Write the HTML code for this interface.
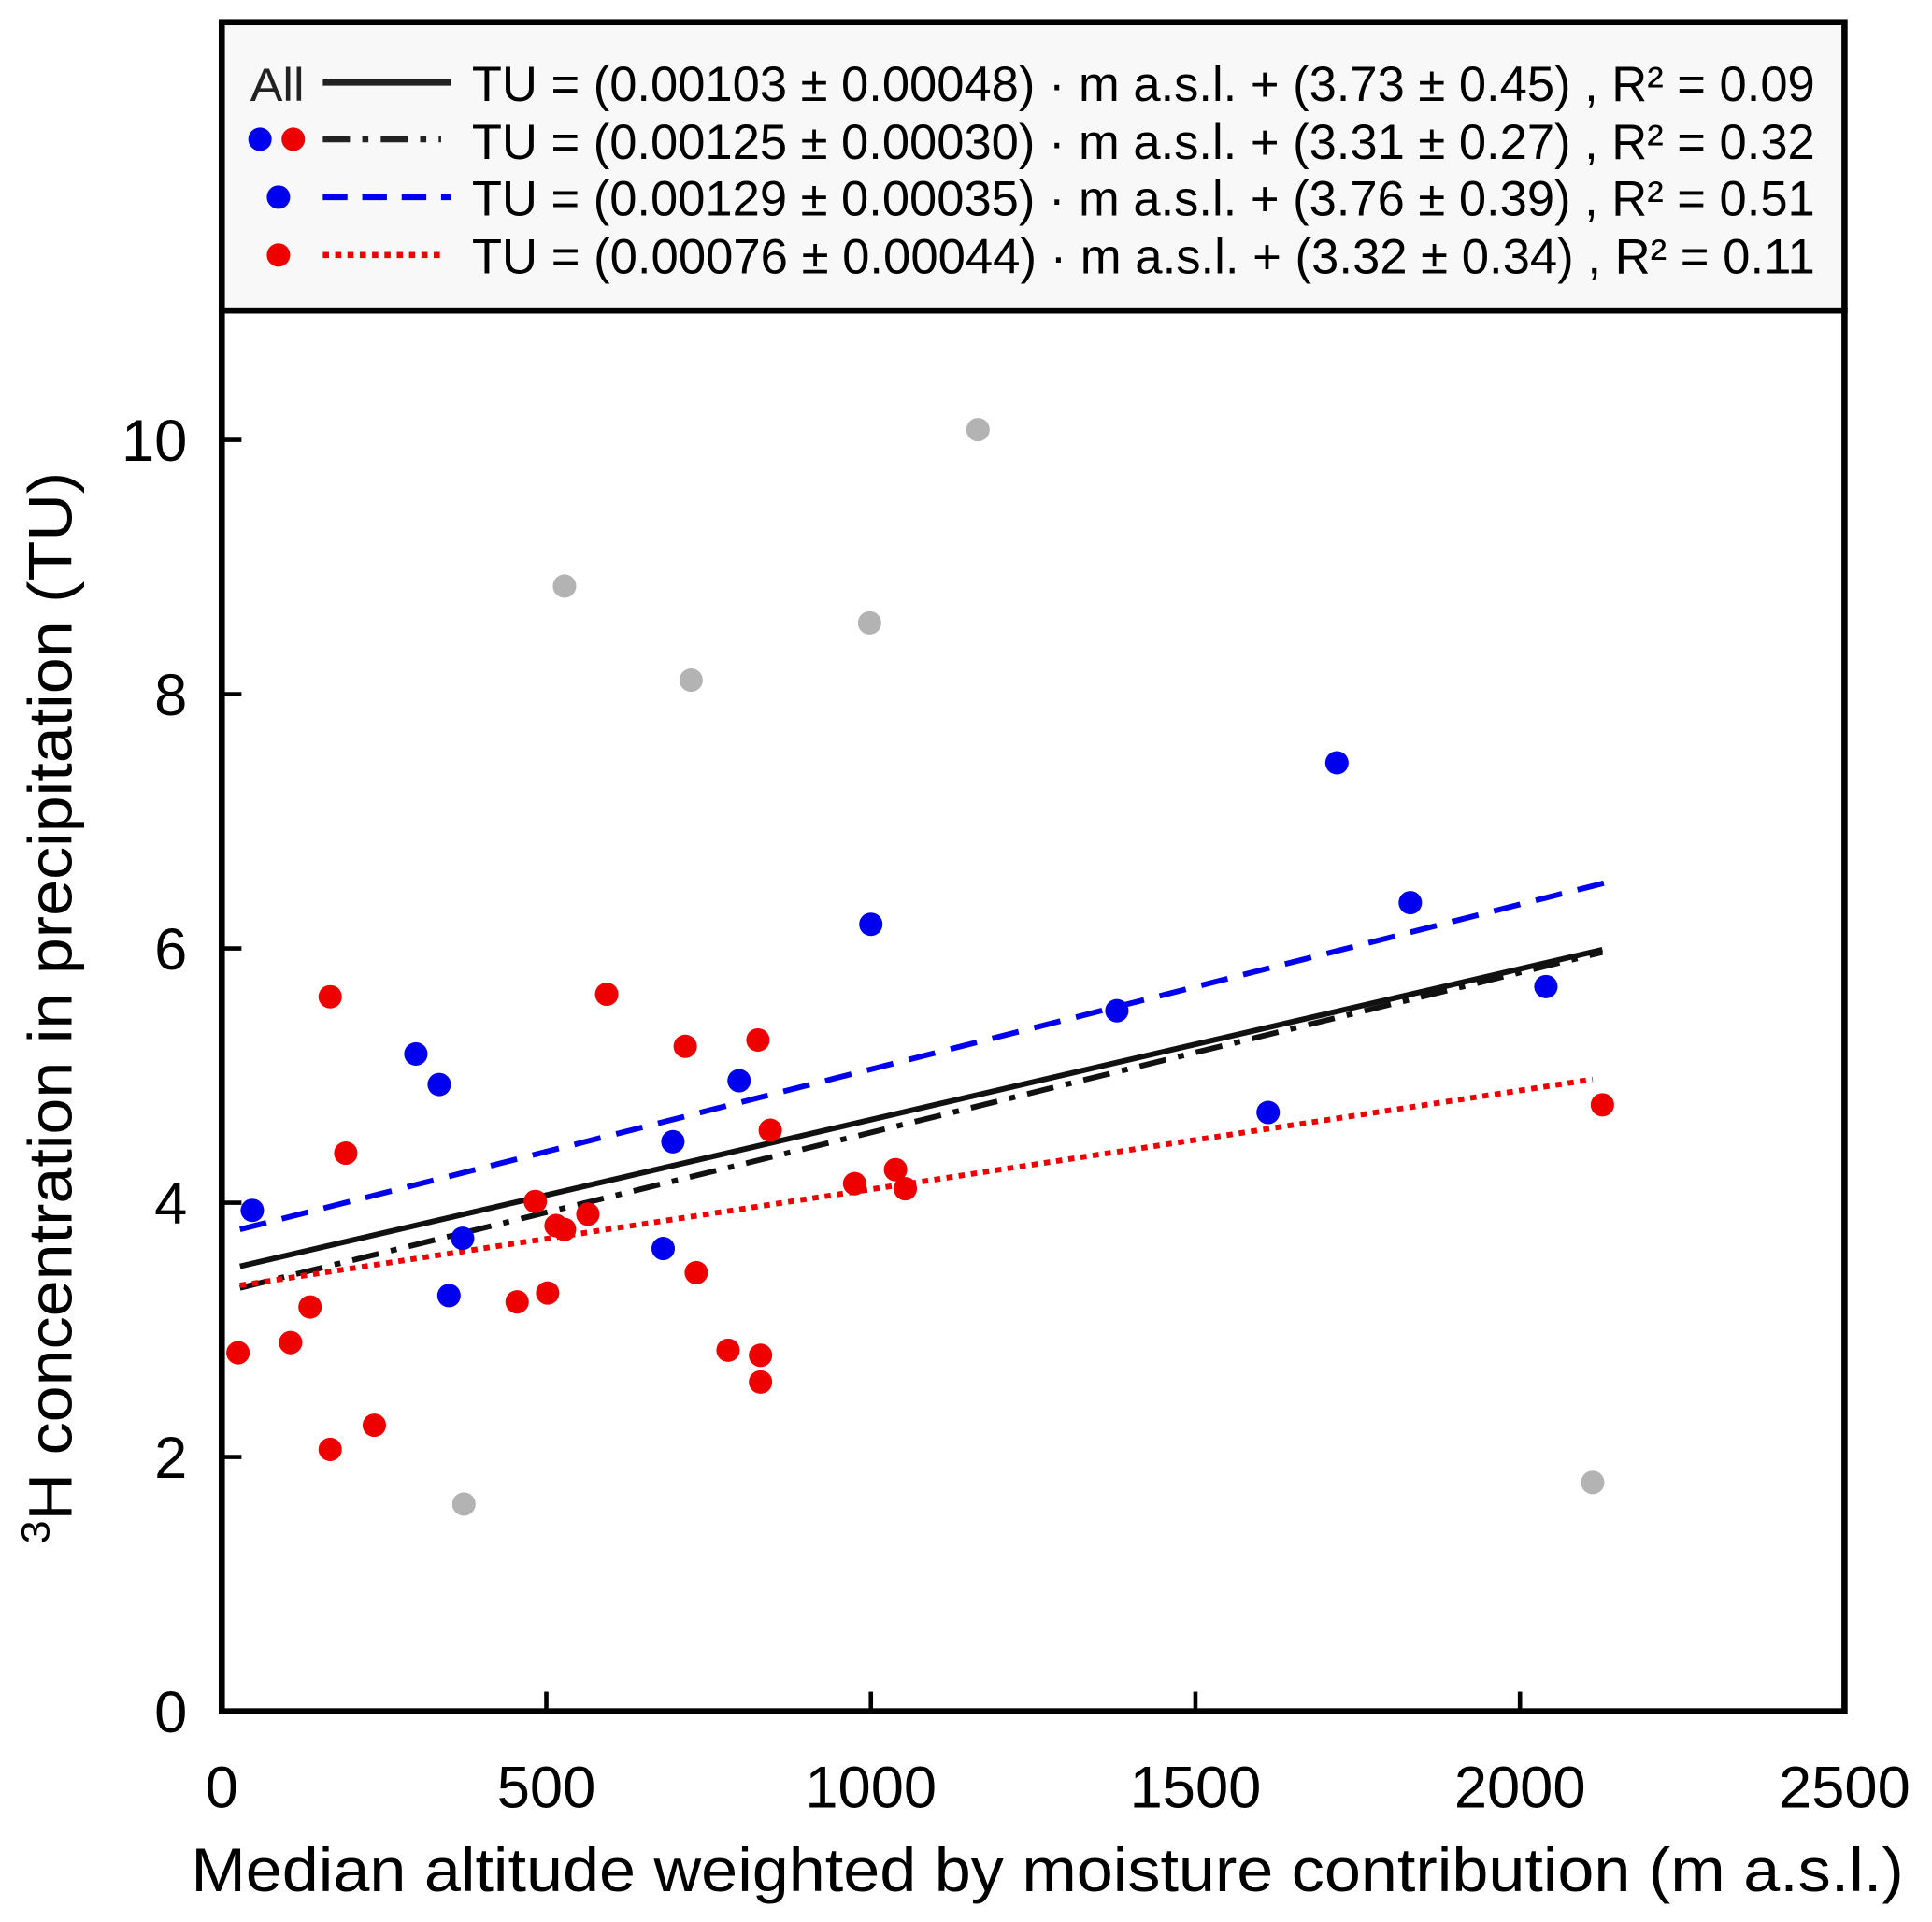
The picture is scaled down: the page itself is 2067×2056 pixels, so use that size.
<!DOCTYPE html>
<html><head><meta charset="utf-8"><style>
html,body{margin:0;padding:0;background:#fff}
svg{display:block}
text{font-family:"Liberation Sans",Arial,sans-serif}
</style></head><body>
<svg id="chart" width="2067" height="2056" viewBox="0 0 1568 1560" preserveAspectRatio="none" xmlns="http://www.w3.org/2000/svg">
<rect x="0" y="0" width="1568" height="1560" fill="#fff"/>
<g id="marks"></g>
<g id="axes"></g>
<g id="legend">
  <rect x="180" y="18" width="1317" height="234" fill="#f8f8f8" stroke="#000" stroke-width="5"/>
  <text x="203" y="82" font-size="38" fill="#222" textLength="44" lengthAdjust="spacingAndGlyphs">All</text>
  <line x1="262" y1="67" x2="366" y2="67" stroke="#222" stroke-width="5"/>
  <circle cx="211" cy="113" r="9.5" fill="#0000ee"/><circle cx="238" cy="113" r="9.5" fill="#ee0000"/>
  <line x1="262" y1="113" x2="358" y2="113" stroke="#222" stroke-width="5" stroke-dasharray="22,10,5,10"/>
  <circle cx="226" cy="160" r="9.5" fill="#0000ee"/>
  <line x1="262" y1="160" x2="366" y2="160" stroke="#0000ee" stroke-width="5" stroke-dasharray="20,12"/>
  <circle cx="226" cy="207" r="9.5" fill="#ee0000"/>
  <line x1="262" y1="207" x2="360" y2="207" stroke="#ee0000" stroke-width="5" stroke-dasharray="5,5"/>
  <text x="383" y="82" font-size="40" textLength="1090" lengthAdjust="spacingAndGlyphs">TU = (0.00103 ± 0.00048) · m a.s.l. + (3.73 ± 0.45) , R² = 0.09</text>
  <text x="383" y="129" font-size="40" textLength="1090" lengthAdjust="spacingAndGlyphs">TU = (0.00125 ± 0.00030) · m a.s.l. + (3.31 ± 0.27) , R² = 0.32</text>
  <text x="383" y="175" font-size="40" textLength="1090" lengthAdjust="spacingAndGlyphs">TU = (0.00129 ± 0.00035) · m a.s.l. + (3.76 ± 0.39) , R² = 0.51</text>
  <text x="383" y="222" font-size="40" textLength="1090" lengthAdjust="spacingAndGlyphs">TU = (0.00076 ± 0.00044) · m a.s.l. + (3.32 ± 0.34) , R² = 0.11</text>
</g>
<text x="850" y="1535" font-size="50" text-anchor="middle" textLength="1390" lengthAdjust="spacingAndGlyphs">Median altitude weighted by moisture contribution  (m a.s.l.)</text>
<text transform="translate(58,818) rotate(-90)" font-size="50" text-anchor="middle" textLength="870" lengthAdjust="spacingAndGlyphs"><tspan font-size="32" dy="-18">3</tspan><tspan dy="18">H concentration in precipitation (TU)</tspan></text>
</svg>
<script>
const xTicks = [0, 500, 1000, 1500, 2000, 2500];
const yTicks = [0, 2, 4, 6, 8, 10];
const grayX = [528, 723, 998, 1165, 373, 2112];
const grayY = [8.85, 8.11, 8.56, 10.08, 1.63, 1.80];
const blueX = [47, 299, 335, 371, 350, 695, 680, 797, 1000, 1379, 1612, 1718, 1831, 2040];
const blueY = [3.94, 5.17, 4.93, 3.72, 3.27, 4.48, 3.64, 4.96, 6.19, 5.51, 4.71, 7.46, 6.36, 5.70];
const redX = [25, 106, 136, 167, 191, 167, 235, 455, 483, 502, 515, 528, 564, 593, 714, 731, 780, 826, 830, 830, 845, 975, 1038, 1053, 2127];
const redY = [2.82, 2.90, 3.18, 5.62, 4.39, 2.06, 2.25, 3.22, 4.01, 3.29, 3.82, 3.79, 3.91, 5.64, 5.23, 3.45, 2.84, 5.28, 2.80, 2.59, 4.57, 4.15, 4.26, 4.11, 4.77];
const fitNames = ['fit-all', 'fit-blue-red', 'fit-blue', 'fit-red'];
const fitX0 = [28, 28, 28, 28];
const fitX1 = [2127, 2127, 2134, 2112];
const fitY0 = [3.50, 3.33, 3.79, 3.35];
const fitY1 = [5.99, 5.97, 6.52, 4.97];

const NS = 'http://www.w3.org/2000/svg';
const X0 = 180, X1 = 1497, Y0 = 1389, Ytop = 252;
const sx = v => X0 + v * (X1 - X0) / 2500;
const sy = v => Y0 - v * 103.2;
function mk(tag, attrs, parent) {
  const e = document.createElementNS(NS, tag);
  for (const k in attrs) e.setAttribute(k, attrs[k]);
  parent.appendChild(e);
  return e;
}
const marks = document.getElementById('marks');
const axes = document.getElementById('axes');

const styles = [
  {stroke: '#111', dash: ''},
  {stroke: '#111', dash: '22,10,5,10'},
  {stroke: '#0000ee', dash: '22,13'},
  {stroke: '#ee0000', dash: '5,5'}
];
function dots(xs, ys, color, name) {
  xs.forEach((x, i) => {
    const c = mk('circle', {cx: sx(x), cy: sy(ys[i]), r: 9.5, fill: color}, marks);
    
    
  });
}
dots(grayX, grayY, '#b3b3b3', 'point-excluded');
fitNames.forEach((n, i) => {
  const l = mk('line', {x1: sx(fitX0[i]), y1: sy(fitY0[i]), x2: sx(fitX1[i]), y2: sy(fitY1[i]), stroke: styles[i].stroke, 'stroke-width': 4.5}, marks);
  if (styles[i].dash) l.setAttribute('stroke-dasharray', styles[i].dash);
  
  
});
dots(blueX, blueY, '#0000ee', 'point-blue');
dots(redX, redY, '#ee0000', 'point-red');

const frame = mk('rect', {x: X0, y: Ytop, width: X1 - X0, height: Y0 - Ytop, fill: 'none', stroke: '#000', 'stroke-width': 5}, axes);


xTicks.forEach(t => {
  mk('line', {x1: sx(t), y1: Y0, x2: sx(t), y2: Y0 - 16, stroke: '#000', 'stroke-width': 3.5}, axes);
  const tx = mk('text', {x: sx(t), y: Y0 + 78, 'font-size': 48, 'text-anchor': 'middle'}, axes);
  tx.textContent = t;
  
  
});
yTicks.forEach(t => {
  mk('line', {x1: X0, y1: sy(t), x2: X0 + 16, y2: sy(t), stroke: '#000', 'stroke-width': 3.5}, axes);
  const ty = mk('text', {x: 152, y: sy(t) + 17, 'font-size': 48, 'text-anchor': 'end'}, axes);
  ty.textContent = t;
  
  
});
</script>
</body></html>
